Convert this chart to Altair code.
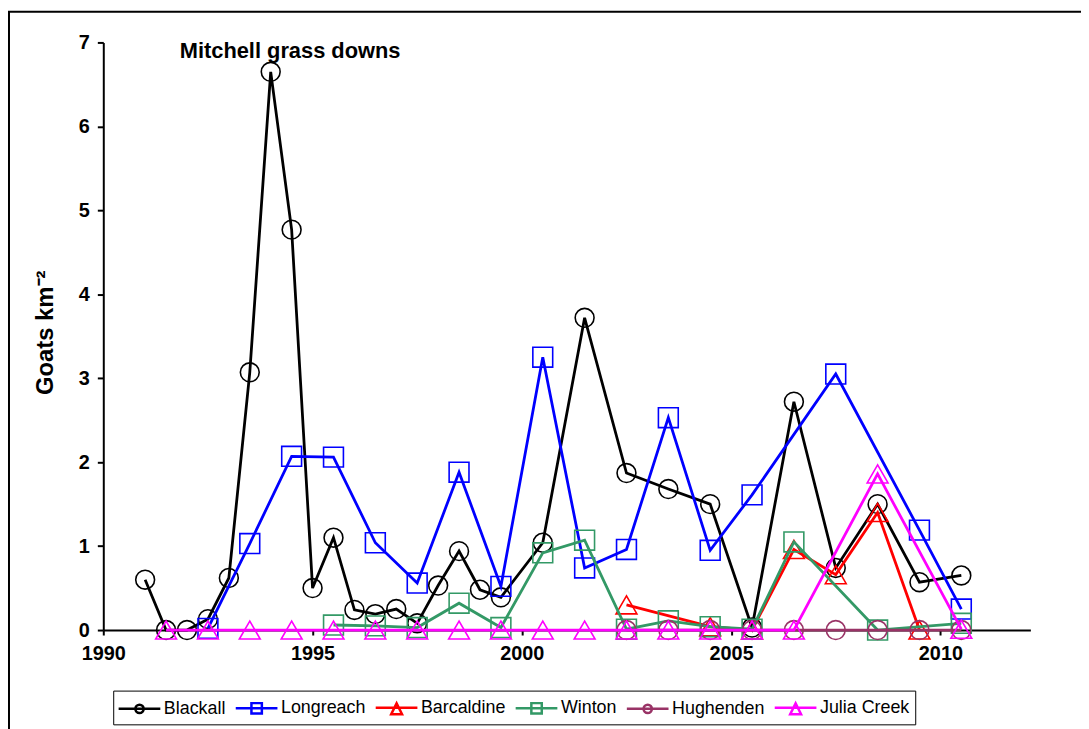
import altair as alt
import pandas as pd

# ---------------- data ----------------
series_names = ["Blackall", "Longreach", "Barcaldine", "Winton", "Hughenden", "Julia Creek"]
series_colors = ["#000000", "#0000FF", "#FF0000", "#339966", "#993366", "#FF00FF"]
series_shapes = ["circle", "square", "triangle-up", "square", "circle", "triangle-up"]

blackall_years = [1991, 1991.5, 1992, 1992.5, 1993, 1993.5, 1994, 1994.5, 1995, 1995.5,
                  1996, 1996.5, 1997, 1997.5, 1998, 1998.5, 1999, 1999.5, 2000.5, 2001.5,
                  2002.5, 2003.5, 2004.5, 2005.5, 2006.5, 2007.5, 2008.5, 2009.5, 2010.5]
blackall = [0.60, 0.0, 0.0, 0.13, 0.62, 3.07, 6.65, 4.77, 0.50, 1.10,
            0.24, 0.19, 0.25, 0.08, 0.53, 0.94, 0.48, 0.39, 1.04, 3.72,
            1.87, 1.68, 1.50, 0.03, 2.72, 0.74, 1.50, 0.57, 0.65]

longreach_years = [1992.5, 1993.5, 1994.5, 1995.5, 1996.5, 1997.5, 1998.5, 1999.5, 2000.5,
                   2001.5, 2002.5, 2003.5, 2004.5, 2005.5, 2007.5, 2009.5, 2010.5]
longreach = [0.02, 1.03, 2.07, 2.06, 1.04, 0.56, 1.88, 0.52, 3.25,
             0.74, 0.96, 2.53, 0.95, 1.61, 3.05, 1.19, 0.25]

barcaldine_years = [2002.5, 2004.5, 2005.5, 2006.5, 2007.5, 2008.5, 2009.5]
barcaldine = [0.30, 0.04, 0.0, 0.96, 0.66, 1.40, 0.0]

winton_years = [1995.5, 1996.5, 1997.5, 1998.5, 1999.5, 2000.5, 2001.5, 2002.5, 2003.5,
                2004.5, 2005.5, 2006.5, 2008.5, 2010.5]
winton = [0.06, 0.05, 0.03, 0.32, 0.03, 0.92, 1.07, 0.01, 0.11,
          0.04, 0.01, 1.05, 0.0, 0.08]

hughenden_years = [2002.5, 2003.5, 2004.5, 2005.5, 2006.5, 2007.5, 2008.5, 2009.5, 2010.5]
hughenden = [0.0, 0.0, 0.0, 0.0, 0.0, 0.0, 0.0, 0.0, 0.0]

julia_years = [1991.5, 1992.5, 1993.5, 1994.5, 1995.5, 1996.5, 1997.5, 1998.5, 1999.5,
               2000.5, 2001.5, 2002.5, 2003.5, 2004.5, 2005.5, 2006.5, 2008.5, 2010.5]
julia = [0.0, 0.0, 0.0, 0.0, 0.0, 0.0, 0.0, 0.0, 0.0,
         0.0, 0.0, 0.0, 0.0, 0.0, 0.0, 0.0, 1.86, 0.01]

x_ticks = [1990, 1995, 2000, 2005, 2010]
y_ticks = [0, 1, 2, 3, 4, 5, 6, 7]

# ---------------- table ----------------
all_years = [blackall_years, longreach_years, barcaldine_years, winton_years, hughenden_years, julia_years]
all_vals = [blackall, longreach, barcaldine, winton, hughenden, julia]
rows = []
for name, ys, vs in zip(series_names, all_years, all_vals):
    for yr, v in zip(ys, vs):
        rows.append({"series": name, "year": yr, "value": v})
df = pd.DataFrame(rows)

FONT = "Liberation Sans, Arial, sans-serif"

# legend symbols: line with a marker (custom SVG paths)
legend_paths = [
    "M-1.1,0L2.9,0M1.305,0A0.4,0.4,0,1,1,0.505,0A0.4,0.4,0,1,1,1.305,0",
    "M-1.1,0L2.9,0M0.405,-0.5L1.405,-0.5L1.405,0.5L0.405,0.5Z",
    "M-1.1,0L2.9,0M0.905,-0.42L1.425,0.62L0.385,0.62Z",
    "M-1.1,0L2.9,0M0.405,-0.5L1.405,-0.5L1.405,0.5L0.405,0.5Z",
    "M-1.1,0L2.9,0M1.305,0A0.4,0.4,0,1,1,0.505,0A0.4,0.4,0,1,1,1.305,0",
    "M-1.1,0L2.9,0M0.905,-0.42L1.425,0.62L0.385,0.62Z",
]

legend = alt.Legend(
    title=None, orient="none", legendX=10, legendY=653, direction="horizontal",
    columns=6, symbolSize=441, symbolStrokeWidth=2.5, labelFontSize=18, labelFont=FONT,
    labelOffset=22, columnPadding=4, padding=5, strokeColor="black", fillColor="white",
    labelLimit=300, symbolFillColor="transparent",
)

color = alt.Color("series:N", scale=alt.Scale(domain=series_names, range=series_colors), legend=legend)
X = alt.X("year:Q", scale=alt.Scale(domain=[1990, 2012.15], nice=False, zero=False),
          axis=alt.Axis(values=x_ticks, format="d", title=None, tickSize=5, labelPadding=9,
                        labelFlush=False))
Y = alt.Y("value:Q", scale=alt.Scale(domain=[0, 7], nice=False),
          axis=alt.Axis(values=y_ticks, title="Goats km\u207b\u00b2", tickSize=6, labelPadding=8,
                        titleX=-58, titleY=292, titleAngle=-90, titleAlign="center",
                        titleBaseline="middle", titleFontSize=24))

frame = alt.Chart(pd.DataFrame({"k": [0]})).mark_rect(
    fill="transparent", stroke="black", strokeWidth=2
).encode(x=alt.value(-95), x2=alt.value(1300), y=alt.value(-31), y2=alt.value(1000))

layers = [frame]
for name, shape in zip(series_names, series_shapes):
    base = alt.Chart(df).transform_filter(alt.datum.series == name)
    layers.append(base.mark_line(strokeWidth=2.8).encode(x=X, y=Y, color=color, order="year:Q"))
    size = 361 if shape == "circle" else (400 if shape == "square" else 441)
    layers.append(base.mark_point(shape=shape, size=size, filled=False, strokeWidth=1.6, opacity=1)
                  .encode(x=X, y=Y, color=color))

legend_layer = alt.Chart(df).transform_filter("false").mark_point(filled=False).encode(
    color=color,
    shape=alt.Shape("series:N", scale=alt.Scale(domain=series_names, range=legend_paths), legend=legend),
)
layers.append(legend_layer)

chart = alt.layer(*layers).properties(
    width=934, height=592,
    title=alt.TitleParams("Mitchell grass downs", anchor="start", frame="group", orient="top",
                          fontSize=22, fontWeight="bold", font=FONT, dx=77, dy=70, offset=0,
                          baseline="alphabetic"),
    padding={"left": 96, "top": 32, "right": 51, "bottom": 97},
    autosize=alt.AutoSizeParams(type="none"),
).configure_view(stroke=None).configure_axis(
    grid=False, domainColor="black", domainWidth=2, tickColor="black", tickWidth=2,
    labelFont=FONT, labelFontSize=20, labelFontWeight="bold", labelColor="black",
    titleFont=FONT, titleFontWeight="bold", titleColor="black",
)

chart.save("out.html", embed_options={"renderer": "svg", "actions": False})
